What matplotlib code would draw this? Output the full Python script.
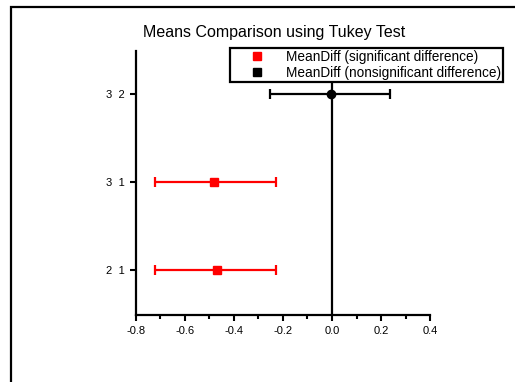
import matplotlib
matplotlib.use("Agg")
import matplotlib.pyplot as plt
from matplotlib.lines import Line2D
from matplotlib.patches import Rectangle

plt.rcParams['font.family'] = ['Liberation Sans', 'DejaVu Sans']

# Tukey pairwise comparisons
pairs = ["2  1", "3  1", "3  2"]
mean_diff = [-0.471, -0.480, -0.006]
lower_ci = [-0.722, -0.722, -0.253]
upper_ci = [-0.230, -0.230, 0.237]
significant = [True, True, False]
x_ticks = [-0.8, -0.6, -0.4, -0.2, 0.0, 0.2, 0.4]
x_minor = [-0.7, -0.5, -0.3, -0.1, 0.1, 0.3]

fig = plt.figure(figsize=(5.15, 3.82), dpi=100)
ax = fig.add_axes([0.264, 0.1754, 0.571, 0.6911])

# outer frame
fig.add_artist(Rectangle((0.0214, -0.1), 1.2, 1.0817, transform=fig.transFigure,
                         fill=False, edgecolor='black', linewidth=1.6))

ax.axvline(0, color='black', linewidth=1.6, zorder=1)

for i, (m, lo, hi, sig) in enumerate(zip(mean_diff, lower_ci, upper_ci, significant)):
    y = i + 1
    color = 'red' if sig else 'black'
    marker = 's' if sig else 'o'
    ax.errorbar(m, y, xerr=[[m - lo], [hi - m]], fmt=marker, color=color,
                ecolor=color, elinewidth=1.6, capsize=3.5, capthick=1.6,
                markersize=5.5 if sig else 6, zorder=3)

ax.set_xlim(-0.8, 0.4)
ax.set_ylim(0.49, 3.49)
ax.set_yticks([1, 2, 3])
ax.set_yticklabels(pairs)
ax.set_xticks(x_ticks)
ax.set_xticklabels([f"{v:.1f}" for v in x_ticks])
ax.set_xticks(x_minor, minor=True)

for s in ['top', 'right']:
    ax.spines[s].set_visible(False)
for s in ['left', 'bottom']:
    ax.spines[s].set_linewidth(1.6)

ax.tick_params(axis='both', which='major', length=4, width=1.5, labelsize=8, pad=4)
ax.tick_params(axis='x', which='minor', length=3, width=1.5)
ax.tick_params(axis='y', which='minor', left=False)

fig.text(274.5 / 515, 1 - 33 / 382, "Means Comparison using Tukey Test",
         ha='center', va='center', fontsize=11.5)

handles = [
    Line2D([], [], linestyle='none', marker='s', color='red', markersize=5.5),
    Line2D([], [], linestyle='none', marker='s', color='black', markersize=5.5),
]
leg = fig.legend(handles, ["MeanDiff (significant difference)",
                           "MeanDiff (nonsignificant difference)"],
                 loc='upper right', bbox_to_anchor=(503 / 515, 1 - 48 / 382),
                 fontsize=9.8, frameon=True, fancybox=False, framealpha=1,
                 edgecolor='black', borderpad=0.15, labelspacing=0.15,
                 handlelength=3.6, handletextpad=0.35, borderaxespad=0)
leg.get_frame().set_linewidth(1.6)

fig.savefig("out.png", dpi=100)
